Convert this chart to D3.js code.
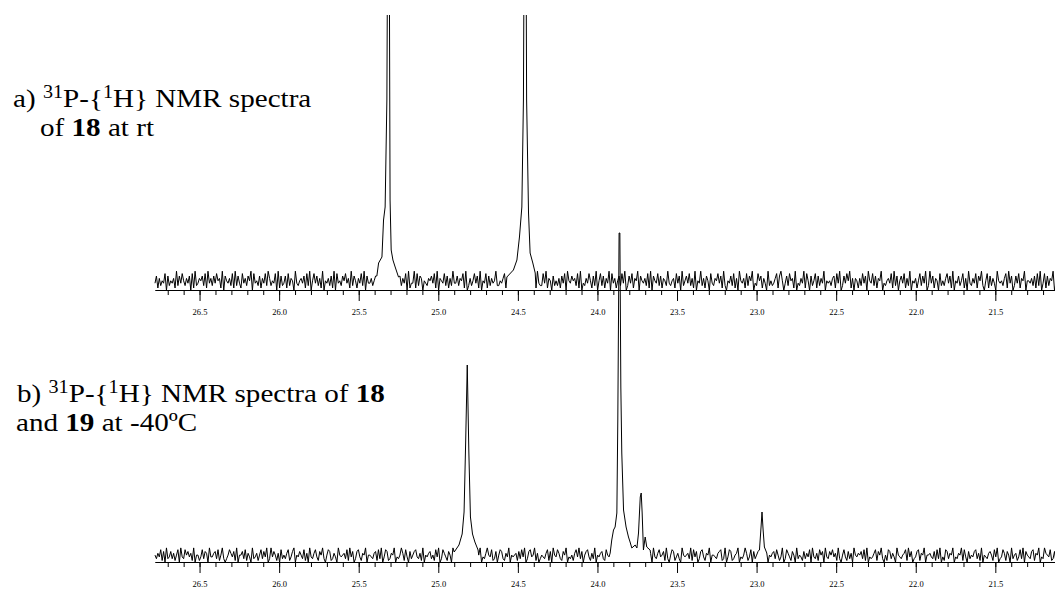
<!DOCTYPE html>
<head>
	<meta charset="utf-8">
	<style>
		body {
			margin: 0;
			background: #fff;
		}

		.axis text {
			font: 8.5px "Liberation Serif", serif;
			fill: #000;
		}

		.axis line,
		.axis path {
			fill: none;
			stroke: #000;
		}

		.spec {
			fill: none;
			stroke: #000;
			stroke-width: 1px;
			stroke-linejoin: round;
		}

		.label {
			font: 26px "Liberation Serif", serif;
			fill: #000;
		}
	</style>
	<script src="https://d3js.org/d3.v7.min.js"></script>
</head>

<body>
	<div id="chart"></div>
	<script>
		// chemical shift axis (ppm), noise sampled every ppmStep from ppmStart
		var ppmStart = 26.78, ppmEnd = 21.125, ppmStep = 0.009;
		var majorTicks = [26.5, 26.0, 25.5, 25.0, 24.5, 24.0, 23.5, 23.0, 22.5, 22.0, 21.5];
		var tickLabels = ["26.5", "26.0", "25.5", "25.0", "24.5", "24.0", "23.5", "23.0", "22.5", "22.0", "21.5"];

		// baseline noise, one digit per sample (0 low .. 9 high)
		var noiseA = "4726354817 3546293748 5364718293 4657382946 3748562917 5463829374 2846375918 4537264839 6354819273 4728365194 " +
			"3564728391 5847362915 4637291845 3758462937 5264839174 4635728491 3847592638 5736481924 4928376154 3657482916 " +
			"5483726394 4736582913 6358472915 4827364593 3546827391 5748392615 4637582943 3849265173 5362748195 4756382914 " +
			"3648527391 5837264918 4625738491 3748265917 5463829175 4837265394 3562847193 5748362915 4936275184 3658472931 " +
			"5473826195 4628375914 3857264193 5346827951 4738562914 3649285173 5827364915 4536728491 3748592616 5263847195 " +
			"4837265914 3564829371 5748263915 4625837491 3947265183 5368472915 4735826194 3648275931 5827364195 4536829471 " +
			"3748265915 5463728391 4827365914";
		var noiseB = "5364827193 4736258194 3857462915 5248376194 4673825931 3586472915 5738264193 4625837491 3947526183 5368247915 " +
			"4753826194 3684275931 5872364195 4563829471 3784265915 5436728391 4872365914 3596284173 5784362915 4673528491 " +
			"3864275193 5246839175 4783265914 3695482371 5873264915 4562738491 3784592613 5436827195 4863275914 3526849371 " +
			"5784263915 4673285491 3984265173 5376482915 4752836194 3684572931 5872463195 4563928471 3784265915 5436782391 " +
			"4872356914 3596248173 5784326915 4673852491 3864275193 5427364819 4362857194 3758462931 5842736195 4657382914 " +
			"3468275931 5287364195 4356829471 3478265915 5643728391 4287365914 3659284173 5478362915 4367528491 3486275193 " +
			"5624839175 4378265914 3965482371";

		// peak profiles [ppm, intensity]
		var peaksA = [
			[[25.386, 14], [25.375, 27], [25.354, 33], [25.344, 70], [25.334, 83], [25.323, 190], [25.316, 450], [25.310, 450], [25.303, 90], [25.296, 40], [25.285, 30], [25.271, 23], [25.25, 13]],
			[[24.569, 13], [24.528, 20], [24.506, 30], [24.49, 53], [24.475, 83], [24.465, 190], [24.458, 450], [24.451, 450], [24.445, 190], [24.433, 77], [24.423, 37], [24.406, 27], [24.391, 17]]
		];
		var peaksB = [
			[[24.90, 10], [24.87, 17], [24.85, 28], [24.838, 50], [24.828, 120], [24.818, 197], [24.808, 110], [24.798, 45], [24.785, 28], [24.77, 20], [24.75, 12]],
			[[23.920, 9], [23.910, 22], [23.899, 32], [23.889, 35], [23.878, 49], [23.872, 142], [23.864, 329], [23.859, 329], [23.853, 175], [23.847, 109], [23.836, 52], [23.82, 35], [23.805, 25], [23.795, 20], [23.784, 14], [23.763, 17], [23.752, 14], [23.742, 29], [23.731, 65], [23.725, 69], [23.719, 49], [23.711, 12], [23.70, 25], [23.69, 15], [23.669, 12]],
			[[22.982, 12], [22.972, 35], [22.966, 50], [22.959, 32], [22.951, 15], [22.936, 9]]
		];

		var width = 1055, height = 589;

		var svg = d3.select("#chart").append("svg")
			.attr("width", width)
			.attr("height", height);

		var x = d3.scaleLinear().domain([ppmStart, ppmEnd]).range([155, 1055]);

		function buildSpectrum(noise, level, gain, peaks) {
			var digits = noise.replace(/\s/g, "");
			var pts = [];
			for (var i = 0; i < digits.length; i++) {
				var p = ppmStart - i * ppmStep;
				if (p < ppmEnd - ppmStep) break;
				var inPeak = peaks.some(function (pk) {
					return p <= pk[0][0] && p >= pk[pk.length - 1][0];
				});
				if (!inPeak) pts.push([p, level + (+digits[i] - 4.5) * gain]);
			}
			peaks.forEach(function (pk) {
				pk.forEach(function (d) { pts.push(d); });
			});
			pts.sort(function (a, b) { return b[0] - a[0]; });
			return pts;
		}

		var panels = [
			{ noise: noiseA, level: 8, gain: 2.4, peaks: peaksA, axisY: 290, clipTop: 15 },
			{ noise: noiseB, level: 6, gain: 1.8, peaks: peaksB, axisY: 562, clipTop: 0 }
		];

		panels.forEach(function (pn, k) {
			var y = d3.scaleLinear().domain([0, 275]).range([pn.axisY, pn.axisY - 275]);

			svg.append("clipPath").attr("id", "clip" + k)
				.append("rect")
				.attr("x", 0).attr("y", pn.clipTop)
				.attr("width", width).attr("height", height - pn.clipTop);

			var line = d3.line()
				.x(function (d) { return x(d[0]); })
				.y(function (d) { return y(d[1]); });

			svg.append("path")
				.datum(buildSpectrum(pn.noise, pn.level, pn.gain, pn.peaks))
				.attr("class", "spec")
				.attr("clip-path", "url(#clip" + k + ")")
				.attr("d", line);

			// minor ticks every 0.1 ppm
			svg.append("g")
				.attr("class", "axis")
				.attr("transform", "translate(0," + pn.axisY + ")")
				.call(d3.axisBottom(x)
					.tickValues(d3.range(26.7, 21.15, -0.1))
					.tickSize(5)
					.tickSizeOuter(0)
					.tickFormat(""));

			svg.append("g")
				.attr("class", "axis")
				.attr("transform", "translate(0," + pn.axisY + ")")
				.call(d3.axisBottom(x)
					.tickValues(majorTicks)
					.tickSize(11)
					.tickSizeOuter(0)
					.tickPadding(8)
					.tickFormat(function (d, i) { return tickLabels[i]; }));
		});

		// captions
		function caption(xp, yp, parts) {
			var t = svg.append("text")
				.attr("class", "label")
				.attr("transform", "translate(" + xp + "," + yp + ") scale(1.12,1)");
			parts.forEach(function (p) {
				var s = t.append("tspan").text(p[0]);
				if (p[1] === "sup") s.attr("font-size", "18px").attr("dy", -9);
				if (p[1] === "down") s.attr("dy", 9);
				if (p[1] === "b") s.attr("font-weight", "bold");
			});
		}

		caption(13, 107, [["a) "], ["31", "sup"], ["P-{", "down"], ["1", "sup"], ["H} NMR spectra", "down"]]);
		caption(40, 136, [["of "], ["18", "b"], [" at rt"]]);
		caption(17, 402, [["b) "], ["31", "sup"], ["P-{", "down"], ["1", "sup"], ["H} NMR spectra of ", "down"], ["18", "b"]]);
		caption(16, 431, [["and "], ["19", "b"], [" at -40ºC"]]);
	</script>
</body>
